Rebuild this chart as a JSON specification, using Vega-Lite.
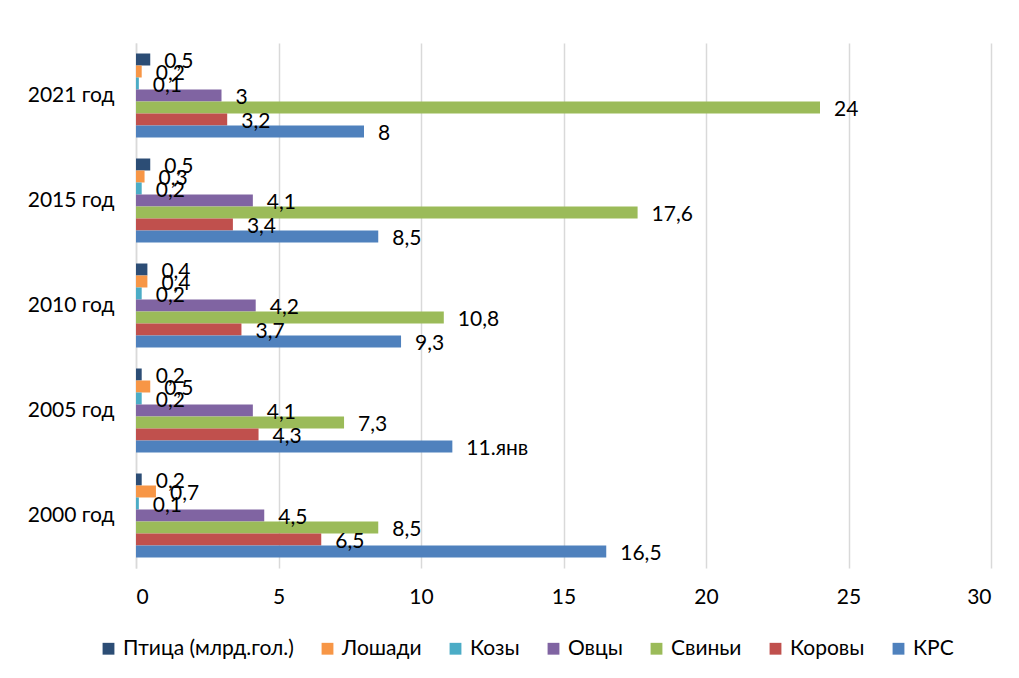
{
  "$schema": "https://vega.github.io/schema/vega-lite/v6.json",
  "width": 855,
  "height": 525,
  "autosize": {"type": "none"},
  "padding": {"left": 136, "top": 43, "right": 28, "bottom": 110},
  "background": "white",
  "config": {
    "font": "Lato",
    "view": {"stroke": null},
    "axis": {"labelFont": "Lato", "labelColor": "#000000"},
    "legend": {"labelFont": "Lato"}
  },
  "data": {
    "values": [
      {"year": "2021 год", "species": "Птица (млрд.гол.)", "value": 0.5, "label": "0,5"},
      {"year": "2021 год", "species": "Лошади", "value": 0.2, "label": "0,2"},
      {"year": "2021 год", "species": "Козы", "value": 0.1, "label": "0,1"},
      {"year": "2021 год", "species": "Овцы", "value": 3, "label": "3"},
      {"year": "2021 год", "species": "Свиньи", "value": 24, "label": "24"},
      {"year": "2021 год", "species": "Коровы", "value": 3.2, "label": "3,2"},
      {"year": "2021 год", "species": "КРС", "value": 8, "label": "8"},
      {"year": "2015 год", "species": "Птица (млрд.гол.)", "value": 0.5, "label": "0,5"},
      {"year": "2015 год", "species": "Лошади", "value": 0.3, "label": "0,3"},
      {"year": "2015 год", "species": "Козы", "value": 0.2, "label": "0,2"},
      {"year": "2015 год", "species": "Овцы", "value": 4.1, "label": "4,1"},
      {"year": "2015 год", "species": "Свиньи", "value": 17.6, "label": "17,6"},
      {"year": "2015 год", "species": "Коровы", "value": 3.4, "label": "3,4"},
      {"year": "2015 год", "species": "КРС", "value": 8.5, "label": "8,5"},
      {"year": "2010 год", "species": "Птица (млрд.гол.)", "value": 0.4, "label": "0,4"},
      {"year": "2010 год", "species": "Лошади", "value": 0.4, "label": "0,4"},
      {"year": "2010 год", "species": "Козы", "value": 0.2, "label": "0,2"},
      {"year": "2010 год", "species": "Овцы", "value": 4.2, "label": "4,2"},
      {"year": "2010 год", "species": "Свиньи", "value": 10.8, "label": "10,8"},
      {"year": "2010 год", "species": "Коровы", "value": 3.7, "label": "3,7"},
      {"year": "2010 год", "species": "КРС", "value": 9.3, "label": "9,3"},
      {"year": "2005 год", "species": "Птица (млрд.гол.)", "value": 0.2, "label": "0,2"},
      {"year": "2005 год", "species": "Лошади", "value": 0.5, "label": "0,5"},
      {"year": "2005 год", "species": "Козы", "value": 0.2, "label": "0,2"},
      {"year": "2005 год", "species": "Овцы", "value": 4.1, "label": "4,1"},
      {"year": "2005 год", "species": "Свиньи", "value": 7.3, "label": "7,3"},
      {"year": "2005 год", "species": "Коровы", "value": 4.3, "label": "4,3"},
      {"year": "2005 год", "species": "КРС", "value": 11.1, "label": "11.янв"},
      {"year": "2000 год", "species": "Птица (млрд.гол.)", "value": 0.2, "label": "0,2"},
      {"year": "2000 год", "species": "Лошади", "value": 0.7, "label": "0,7"},
      {"year": "2000 год", "species": "Козы", "value": 0.1, "label": "0,1"},
      {"year": "2000 год", "species": "Овцы", "value": 4.5, "label": "4,5"},
      {"year": "2000 год", "species": "Свиньи", "value": 8.5, "label": "8,5"},
      {"year": "2000 год", "species": "Коровы", "value": 6.5, "label": "6,5"},
      {"year": "2000 год", "species": "КРС", "value": 16.5, "label": "16,5"}
    ]
  },
  "encoding": {
    "y": {
      "field": "year",
      "type": "nominal",
      "sort": ["2021 год", "2015 год", "2010 год", "2005 год", "2000 год"],
      "scale": {"paddingInner": 0.2, "paddingOuter": 0.1},
      "axis": {
        "title": null,
        "ticks": false,
        "domainColor": "#d9d9d9",
        "domainWidth": 1.5,
        "labelFontSize": 21,
        "labelPadding": 22
      }
    },
    "yOffset": {
      "field": "species",
      "type": "nominal",
      "sort": ["Птица (млрд.гол.)", "Лошади", "Козы", "Овцы", "Свиньи", "Коровы", "КРС"]
    },
    "x": {
      "field": "value",
      "type": "quantitative",
      "scale": {"domain": [0, 30], "nice": false},
      "axis": {
        "title": null,
        "values": [0, 5, 10, 15, 20, 25, 30],
        "domain": false,
        "ticks": false,
        "gridColor": "#d9d9d9",
        "gridWidth": 1.5,
        "labelFontSize": 21,
        "labelPadding": 18
      }
    }
  },
  "layer": [
    {
      "mark": {"type": "bar"},
      "encoding": {
        "color": {
          "field": "species",
          "type": "nominal",
          "sort": ["Птица (млрд.гол.)", "Лошади", "Козы", "Овцы", "Свиньи", "Коровы", "КРС"],
          "scale": {
            "domain": ["Птица (млрд.гол.)", "Лошади", "Козы", "Овцы", "Свиньи", "Коровы", "КРС"],
            "range": ["#2C4D75", "#F79646", "#4BACC6", "#8064A2", "#9BBB59", "#C0504D", "#4F81BD"]
          },
          "legend": {
            "title": null,
            "orient": "none",
            "legendX": -38,
            "legendY": 595,
            "direction": "horizontal",
            "columns": 7,
            "symbolType": "square",
            "symbolSize": 140,
            "symbolStrokeWidth": 0,
            "labelFontSize": 21,
            "labelColor": "#000000",
            "labelOffset": 4,
            "columnPadding": 23,
            "labelLimit": 300
          }
        }
      }
    },
    {
      "mark": {"type": "text", "align": "left", "baseline": "middle", "dx": 14, "dy": 2, "fontSize": 21, "color": "#000000"},
      "encoding": {
        "text": {"field": "label"}
      }
    }
  ]
}
